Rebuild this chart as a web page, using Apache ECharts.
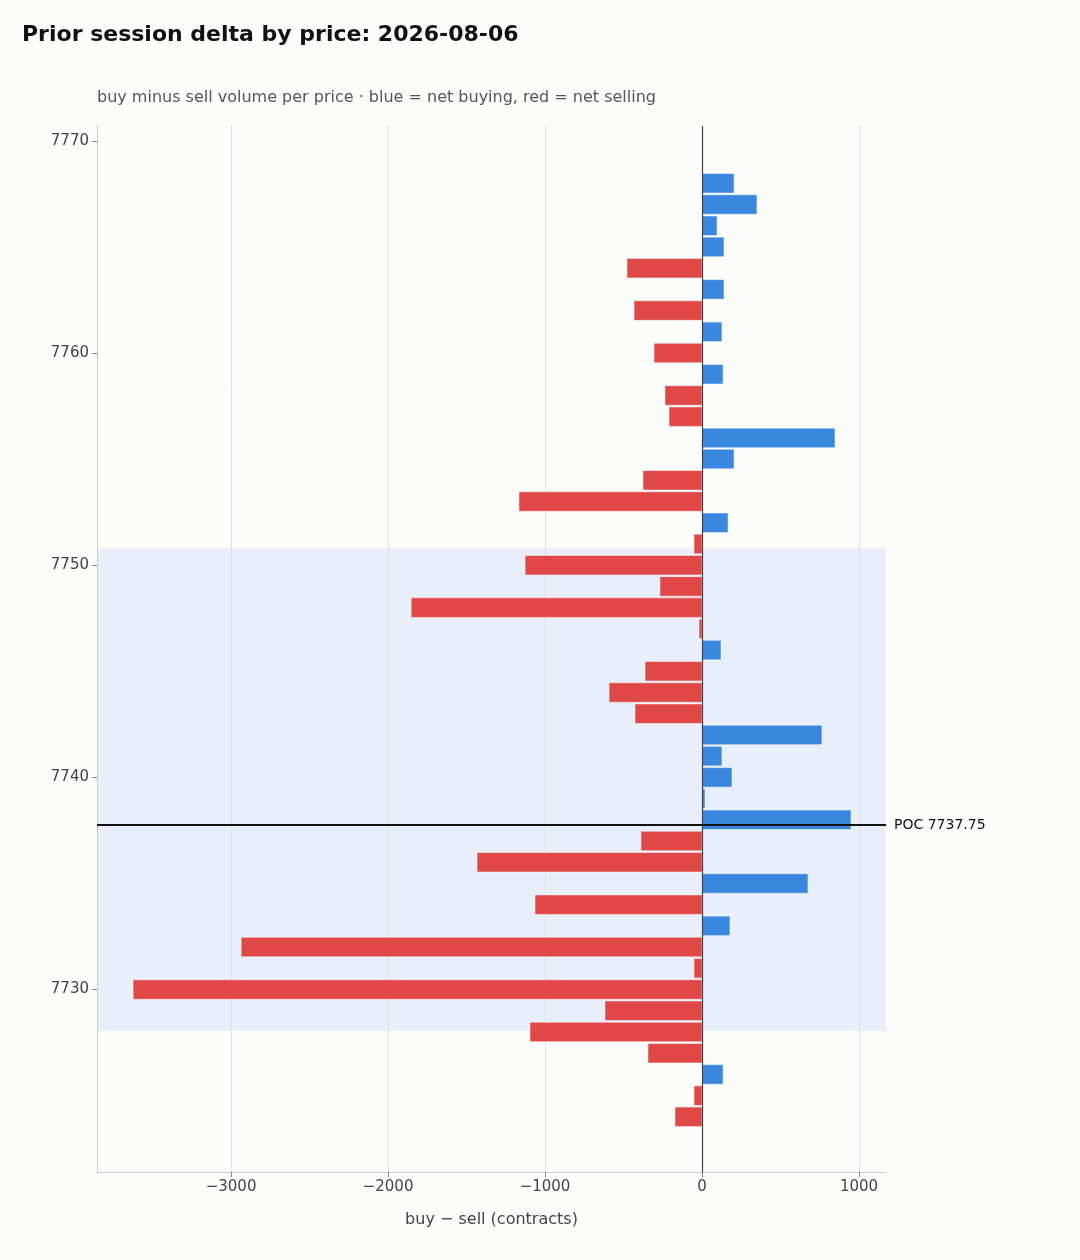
<!DOCTYPE html>
<html><head><meta charset="utf-8">
<script src="https://cdn.jsdelivr.net/npm/echarts@6/dist/echarts.min.js"></script>
<style>html,body{margin:0;background:#fcfcfb}#c{width:1080px;height:1260px}</style>
</head><body><div id="c"></div>
<script>
const prices = [7768,7767,7766,7765,7764,7763,7762,7761,7760,7759,7758,7757,7756,7755,7754,7753,7752,7751,7750,7749,7748,7747,7746,7745,7744,7743,7742,7741,7740,7739,7738,7737,7736,7735,7734,7733,7732,7731,7730,7729,7728,7727,7726,7725,7724];
const deltas = [204,350,96,140,-478,140,-433,127,-306,134,-236,-210,847,204,-376,-1166,166,-51,-1127,-268,-1853,-19,121,-363,-592,-427,764,127,191,19,949,-389,-1433,675,-1064,178,-2936,-51,-3624,-618,-1096,-344,134,-51,-172];
const yTicks = [7730,7740,7750,7760,7770];
const xTicks = [-3000,-2000,-1000,0,1000];
const poc = 7737.75, vaLow = 7728.05, vaHigh = 7750.8;
const data = prices.map((p,i)=>[deltas[i],p]);
const chart = echarts.init(document.getElementById('c'));
chart.setOption({
  backgroundColor:'#fcfcfb',
  animation:false,
  title:[{text:'Prior session delta by price: 2026-08-06',left:22,top:24,padding:0,textStyle:{fontSize:22,fontWeight:'bold',color:'#111',fontFamily:'DejaVu Sans'}},
         {text:'buy minus sell volume per price · blue = net buying, red = net selling',left:97,top:90,padding:0,textStyle:{fontSize:16,fontWeight:'normal',color:'#555',fontFamily:'DejaVu Sans'}}],
  grid:{left:97,right:194,top:126,bottom:88},
  xAxis:{type:'value',min:-3854,max:1172,name:'buy − sell (contracts)',nameLocation:'middle',nameGap:40,
    nameTextStyle:{fontSize:16,color:'#444',fontFamily:'DejaVu Sans'},
    axisLine:{show:true,onZero:false,lineStyle:{color:'#ccc'}},
    axisTick:{show:true,customValues:xTicks,lineStyle:{color:'#888'}},
    axisLabel:{customValues:xTicks,fontSize:15,color:'#444',fontFamily:'DejaVu Sans',formatter:v=>v<0?'−'+Math.abs(v):''+v},
    splitLine:{show:false}},
  yAxis:{type:'value',min:7721.4,max:7770.7,
    axisLine:{show:true,onZero:false,lineStyle:{color:'#ccc'}},
    axisTick:{show:true,customValues:yTicks,lineStyle:{color:'#888'}},
    axisLabel:{customValues:yTicks,fontSize:15,color:'#444',fontFamily:'DejaVu Sans',formatter:v=>''+v},
    splitLine:{show:false}},
  series:[
   {type:'line',data:[],z:0,zlevel:0,markLine:{silent:true,z:0,symbol:'none',label:{show:false},lineStyle:{color:'#e2e2e2',type:'solid',width:1},
      data:xTicks.filter(v=>v!==0).map(v=>({xAxis:v}))},
    markArea:{silent:true,z:0,itemStyle:{color:'rgba(59,130,246,0.1)'},data:[[{yAxis:vaLow},{yAxis:vaHigh}]]}},
   {type:'custom',data:data,z:3,
    renderItem:(params,api)=>{
      const v=api.value(0),p=api.value(1);
      const a=api.coord([0,p]),b=api.coord([v,p]);
      const h=api.size([0,0.92])[1];
      const x=Math.min(a[0],b[0]),w=Math.abs(b[0]-a[0]);
      return {type:'rect',shape:{x:x,y:a[1]-h/2,width:w,height:h},
        style:{fill:v>=0?'#3a87e0':'#e04848',stroke:'#fff',lineWidth:0.5}};
    },
    markLine:{silent:true,symbol:'none',z:5,data:[
      {xAxis:0,lineStyle:{color:'#444',width:1.2,type:'solid'},label:{show:false}},
      {yAxis:poc,lineStyle:{color:'#111',width:2,type:'solid'},label:{show:true,position:'end',formatter:'POC 7737.75',fontSize:14,color:'#111',fontFamily:'DejaVu Sans',distance:8}}
    ]}}
  ]
});
</script></body></html>
